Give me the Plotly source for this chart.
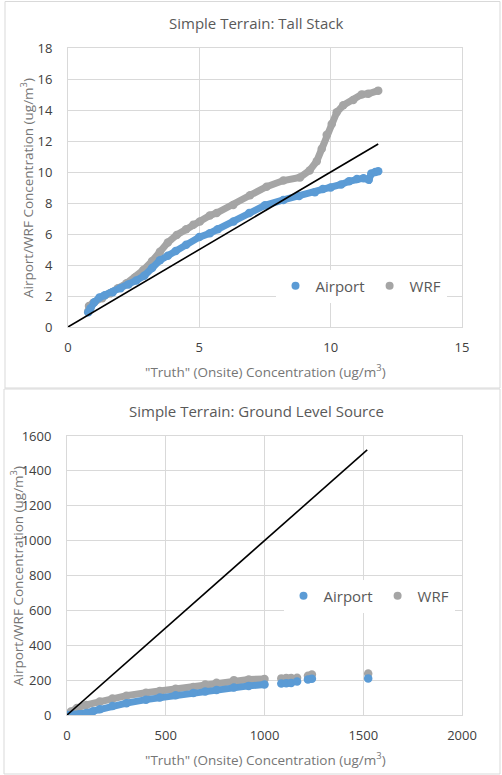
import plotly.graph_objects as go

# ---------------- data: Simple Terrain, Tall Stack ----------------
tall_airport_x = [0.77, 0.85, 1.0, 1.2, 1.4, 1.7, 2.0, 2.3, 2.6, 2.9, 3.2, 3.5, 3.8, 4.1, 4.5, 5.0, 5.4,
                  5.7, 6.3, 6.9, 7.5, 8.2, 8.8, 9.4, 9.7, 10.0, 10.4, 10.7, 11.0, 11.25, 11.45, 11.55, 11.7, 11.81]
tall_airport_y = [0.95, 1.2, 1.6, 1.9, 2.05, 2.25, 2.5, 2.75, 3.0, 3.3, 3.8, 4.3, 4.6, 4.9, 5.3, 5.8, 6.05,
                  6.3, 6.8, 7.35, 7.85, 8.2, 8.45, 8.7, 8.9, 9.0, 9.2, 9.4, 9.55, 9.6, 9.5, 9.9, 10.0, 10.05]
tall_wrf_x = [0.77, 0.8, 0.96, 1.3, 1.6, 1.9, 2.23, 2.55, 2.87, 3.2, 3.5, 3.8, 4.14, 4.5, 4.77, 5.02, 5.4,
              5.66, 6.29, 6.93, 7.56, 8.2, 8.83, 9.2, 9.47, 9.66, 9.85, 10.04, 10.23, 10.48, 10.86, 11.18, 11.43, 11.81]
tall_wrf_y = [1.0, 1.35, 1.55, 1.85, 2.17, 2.5, 2.82, 3.2, 3.68, 4.25, 4.86, 5.45, 5.94, 6.3, 6.6, 6.8, 7.2,
              7.35, 7.87, 8.5, 9.05, 9.45, 9.65, 10.1, 10.7, 11.5, 12.4, 13.1, 13.85, 14.3, 14.65, 15.0, 15.05, 15.25]
tall_one_to_one = [0, 11.81]

# ---------------- data: Simple Terrain, Ground Level Source ----------------
ground_airport_x = [0, 30, 64, 98, 132, 166, 230, 301, 400, 470, 550, 640, 700, 757, 845, 920, 1000,
                    None, 1085, 1110, 1135, None, 1165, None, 1220, 1240, None, 1525]
ground_airport_y = [0, 2, 5, 12, 22, 33, 52, 68, 88, 100, 113, 126, 135, 143, 158, 167, 175,
                    None, 180, 182, 183, None, 192, None, 203, 208, None, 210]
ground_wrf_x = [0, 20, 50, 98, 166, 230, 301, 400, 470, 550, 640, 700, 757, 845, 920, 1000,
                None, 1085, 1110, 1135, None, 1165, None, 1220, 1240, None, 1525]
ground_wrf_y = [3, 20, 40, 58, 78, 95, 111, 128, 138, 150, 161, 175, 185, 200, 203, 207,
                None, 210, 212, 212, None, 214, None, 225, 232, None, 238]
ground_one_to_one = [0, 1520]

series_names = ["Airport", "WRF"]
titles = ["Simple Terrain: Tall Stack", "Simple Terrain: Ground Level Source"]
x_title = '"Truth" (Onsite) Concentration (ug/m<sup>3</sup>)'
y_title = "Airport/WRF Concentration (ug/m<sup>3</sup>)"

BLUE = "#5b9bd5"
GRAY = "#a5a5a5"
FONT = "Open Sans"
W, H = 502, 775

fig = go.Figure()


def add_series(x, y, color, xa, ya):
    fig.add_trace(go.Scatter(x=x, y=y, mode="lines+markers", xaxis=xa, yaxis=ya,
                             line=dict(color=color, width=7), marker=dict(color=color, size=8.5),
                             connectgaps=False, showlegend=False, hoverinfo="x+y"))


# top chart
add_series(tall_wrf_x, tall_wrf_y, GRAY, "x", "y")
add_series(tall_airport_x, tall_airport_y, BLUE, "x", "y")
fig.add_trace(go.Scatter(x=tall_one_to_one, y=tall_one_to_one, mode="lines", xaxis="x", yaxis="y",
                         line=dict(color="black", width=1.6), showlegend=False))
# bottom chart
add_series(ground_wrf_x, ground_wrf_y, GRAY, "x2", "y2")
add_series(ground_airport_x, ground_airport_y, BLUE, "x2", "y2")
fig.add_trace(go.Scatter(x=ground_one_to_one, y=ground_one_to_one, mode="lines", xaxis="x2", yaxis="y2",
                         line=dict(color="black", width=1.6), showlegend=False))

# legend entries (markers only, like Excel)
for lg, xa, ya in [("legend", "x", "y"), ("legend2", "x2", "y2")]:
    for name, color in zip(series_names, [BLUE, GRAY]):
        fig.add_trace(go.Scatter(x=[None], y=[None], mode="markers", name=name, xaxis=xa, yaxis=ya,
                                 marker=dict(color=color, size=8), legend=lg, showlegend=True))


def px_x(p):
    return p / W


def px_y(p):
    return 1 - p / H


grid = "#d9d9d9"
tick_font = dict(family=FONT, size=13, color="#404040")
common_x = dict(showgrid=True, gridcolor=grid, gridwidth=1, zeroline=False, showline=True, linecolor=grid,
                mirror=True, ticks="outside", tickcolor="rgba(0,0,0,0)", ticklen=8, tickfont=tick_font,
                automargin=False)
common_y = dict(showgrid=True, gridcolor=grid, gridwidth=1, zeroline=False, showline=True, linecolor=grid,
                mirror=True, ticks="outside", tickcolor="rgba(0,0,0,0)", ticklen=12, tickfont=tick_font,
                automargin=False)

fig.update_layout(
    width=W, height=H, margin=dict(l=0, r=0, t=0, b=0, autoexpand=False),
    paper_bgcolor="white", plot_bgcolor="white",
    font=dict(family=FONT, color="#595959"),
    xaxis=dict(common_x, domain=[px_x(68), px_x(462)], range=[0, 15], tickvals=[0, 5, 10, 15], anchor="y"),
    yaxis=dict(common_y, domain=[px_y(327), px_y(48)], range=[0, 18], dtick=2, anchor="x"),
    xaxis2=dict(common_x, domain=[px_x(67), px_x(462)], range=[0, 2000], dtick=500, anchor="y2"),
    yaxis2=dict(common_y, domain=[px_y(715), px_y(436)], range=[0, 1600], dtick=200, anchor="x2"),
    legend=dict(x=px_x(361), y=px_y(286), xanchor="center", yanchor="middle", orientation="h",
                bgcolor="white", font=dict(family=FONT, size=15, color="#595959"), itemwidth=30),
    legend2=dict(x=px_x(369), y=px_y(596), xanchor="center", yanchor="middle", orientation="h",
                 bgcolor="white", font=dict(family=FONT, size=15, color="#595959"), itemwidth=30),
    showlegend=True,
)

shapes = [
    # chart-area borders
    dict(type="rect", xref="paper", yref="paper", x0=px_x(5), x1=px_x(500), y0=px_y(388), y1=px_y(1.5),
         line=dict(color=grid, width=1), fillcolor="rgba(0,0,0,0)", layer="below"),
    dict(type="rect", xref="paper", yref="paper", x0=px_x(4), x1=px_x(500), y0=px_y(774), y1=px_y(389),
         line=dict(color=grid, width=1), fillcolor="rgba(0,0,0,0)", layer="below"),
    # legend background boxes
    dict(type="rect", xref="paper", yref="paper", x0=px_x(290), x1=px_x(427), y0=px_y(320), y1=px_y(250),
         line=dict(width=0), fillcolor="white", layer="between"),
    dict(type="rect", xref="paper", yref="paper", x0=px_x(298), x1=px_x(436), y0=px_y(630), y1=px_y(562),
         line=dict(width=0), fillcolor="white", layer="between"),
]
fig.update_layout(shapes=shapes)

ann = []
for t, yc in zip(titles, [23, 411]):
    ann.append(dict(text=t, x=px_x(256), y=px_y(yc), xref="paper", yref="paper", showarrow=False,
                    xanchor="center", yanchor="middle", font=dict(family=FONT, size=15, color="#595959")))
for yc in [371, 759]:
    ann.append(dict(text=x_title, x=px_x(265), y=px_y(yc), xref="paper", yref="paper", showarrow=False,
                    xanchor="center", yanchor="middle", font=dict(family=FONT, size=13.5, color="#767676")))
for xc, yc in [(27, 188), (17, 576)]:
    ann.append(dict(text=y_title, x=px_x(xc), y=px_y(yc), xref="paper", yref="paper", showarrow=False,
                    xanchor="center", yanchor="middle", textangle=-90,
                    font=dict(family=FONT, size=13.5, color="#767676")))
fig.update_layout(annotations=ann)

fig.write_html("out.html", config={"displayModeBar": False},
               post_script="document.body.style.margin='0';document.body.style.overflow='hidden';")
